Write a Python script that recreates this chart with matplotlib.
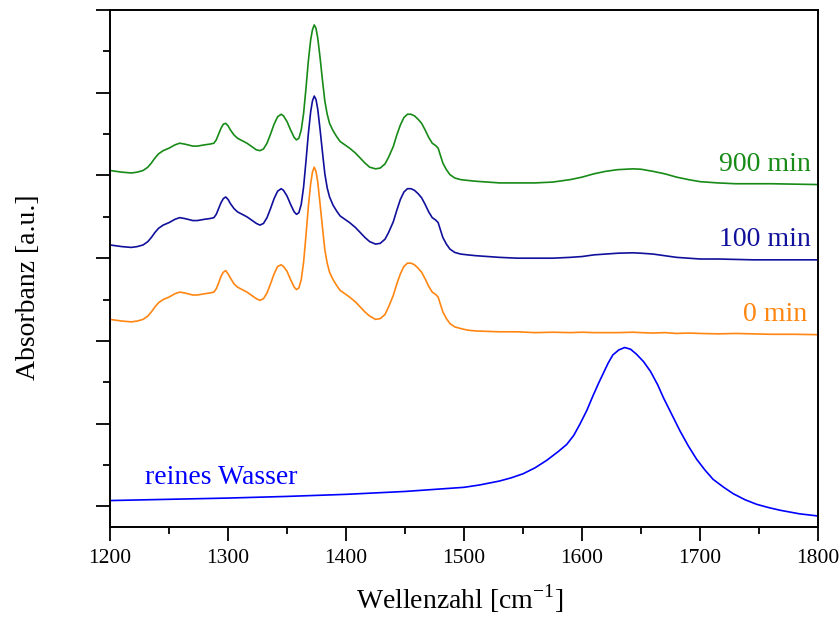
import matplotlib
matplotlib.use('Agg')
import matplotlib.pyplot as plt
from matplotlib import rcParams
from matplotlib.ticker import MultipleLocator

rcParams['font.family'] = 'Liberation Serif'
rcParams['mathtext.fontset'] = 'custom'
rcParams['mathtext.rm'] = 'Liberation Serif'

# wavenumbers [cm-1]
wn = [1200, 1205, 1210, 1218, 1223, 1228, 1232, 1235, 1238, 1241, 1245, 1250,
      1255, 1259, 1263, 1266, 1270, 1274, 1280, 1285, 1288, 1290, 1292, 1294,
      1296, 1298, 1300, 1302, 1305, 1308, 1312, 1316, 1320, 1324, 1327, 1330,
      1333, 1336, 1339, 1342, 1345, 1347, 1350, 1353, 1356, 1358, 1360, 1362,
      1364, 1366, 1368, 1370, 1371.5, 1373, 1374.5, 1376, 1378, 1380, 1382, 1384,
      1386, 1389, 1392, 1395, 1399, 1403, 1408, 1412, 1416, 1420, 1425, 1429,
      1433, 1436, 1440, 1443, 1446, 1449, 1452, 1455, 1458, 1461, 1464, 1467,
      1470, 1473, 1476, 1478, 1480, 1482, 1485, 1488, 1492, 1497, 1503, 1510,
      1520, 1530, 1545, 1560, 1575, 1590, 1600, 1610, 1620, 1630, 1643, 1650,
      1660, 1670, 1680, 1690, 1700, 1715, 1730, 1745, 1760, 1780, 1800]

abs_900 = [4.06, 4.05, 4.04, 4.03, 4.04, 4.06, 4.10, 4.15, 4.21, 4.26, 4.30, 4.33,
           4.37, 4.39, 4.38, 4.37, 4.355, 4.355, 4.37, 4.38, 4.39, 4.43, 4.50, 4.57,
           4.62, 4.63, 4.60, 4.55, 4.49, 4.45, 4.42, 4.39, 4.35, 4.31, 4.30, 4.32,
           4.39, 4.50, 4.62, 4.71, 4.74, 4.72, 4.65, 4.55, 4.46, 4.43, 4.45, 4.55,
           4.75, 5.05, 5.38, 5.64, 5.76, 5.82, 5.78, 5.66, 5.42, 5.15, 4.90, 4.74,
           4.63, 4.54, 4.47, 4.41, 4.37, 4.33, 4.27, 4.21, 4.15, 4.10, 4.08, 4.09,
           4.14, 4.22, 4.35, 4.49, 4.61, 4.70, 4.74, 4.74, 4.72, 4.68, 4.63, 4.55,
           4.46, 4.39, 4.36, 4.33, 4.24, 4.15, 4.07, 4.01, 3.97, 3.95, 3.94, 3.93,
           3.92, 3.91, 3.91, 3.91, 3.92, 3.95, 3.98, 4.02, 4.05, 4.07, 4.08, 4.075,
           4.05, 4.02, 3.98, 3.95, 3.925, 3.91, 3.90, 3.90, 3.90, 3.895, 3.89]

abs_100 = [3.16, 3.15, 3.14, 3.13, 3.14, 3.16, 3.20, 3.25, 3.31, 3.36, 3.40, 3.43,
           3.47, 3.49, 3.48, 3.47, 3.455, 3.455, 3.47, 3.48, 3.49, 3.53, 3.60, 3.67,
           3.72, 3.74, 3.71, 3.66, 3.60, 3.56, 3.53, 3.50, 3.46, 3.42, 3.40, 3.42,
           3.49, 3.60, 3.72, 3.81, 3.84, 3.82, 3.75, 3.65, 3.56, 3.53, 3.55, 3.65,
           3.86, 4.17, 4.50, 4.77, 4.90, 4.96, 4.92, 4.80, 4.55, 4.28, 4.02, 3.85,
           3.74, 3.64, 3.57, 3.51, 3.47, 3.43, 3.37, 3.31, 3.25, 3.20, 3.17, 3.18,
           3.23, 3.31, 3.44, 3.58, 3.71, 3.80, 3.84, 3.84, 3.82, 3.78, 3.73, 3.65,
           3.56, 3.49, 3.46, 3.43, 3.34, 3.25, 3.17, 3.11, 3.07, 3.05, 3.04, 3.03,
           3.02, 3.01, 3.00, 3.00, 3.00, 3.01, 3.02, 3.04, 3.05, 3.06, 3.065, 3.06,
           3.05, 3.03, 3.01, 3.00, 2.99, 2.99, 2.985, 2.98, 2.98, 2.98, 2.98]

abs_0 = [2.26, 2.25, 2.24, 2.23, 2.24, 2.26, 2.30, 2.35, 2.41, 2.46, 2.50, 2.53,
         2.57, 2.59, 2.58, 2.57, 2.555, 2.555, 2.57, 2.58, 2.59, 2.63, 2.70, 2.78,
         2.83, 2.85, 2.81, 2.76, 2.69, 2.65, 2.62, 2.59, 2.55, 2.51, 2.49, 2.51,
         2.58, 2.69, 2.81, 2.90, 2.92, 2.90, 2.84, 2.74, 2.65, 2.62, 2.64, 2.74,
         2.95, 3.27, 3.62, 3.90, 4.04, 4.10, 4.05, 3.92, 3.65, 3.37, 3.10, 2.94,
         2.83, 2.74, 2.67, 2.61, 2.57, 2.53, 2.47, 2.41, 2.35, 2.30, 2.26, 2.27,
         2.32, 2.41, 2.55, 2.69, 2.81, 2.90, 2.94, 2.94, 2.92, 2.88, 2.83, 2.75,
         2.66, 2.59, 2.56, 2.53, 2.44, 2.35, 2.27, 2.21, 2.17, 2.15, 2.13, 2.12,
         2.115, 2.11, 2.11, 2.10, 2.105, 2.10, 2.105, 2.10, 2.10, 2.10, 2.105, 2.10,
         2.095, 2.10, 2.09, 2.095, 2.09, 2.085, 2.09, 2.085, 2.08, 2.08, 2.075]

wn_water = [1200, 1250, 1300, 1350, 1400, 1450, 1480, 1500, 1513, 1530, 1540,
            1550, 1560, 1570, 1580, 1587, 1593, 1598, 1604, 1609, 1614, 1618,
            1622, 1626, 1631, 1636, 1641, 1646, 1652, 1658, 1664, 1669, 1676,
            1683, 1690, 1697, 1704, 1711, 1720, 1728, 1738, 1748, 1758, 1768,
            1784, 1800]
abs_water = [0.07, 0.085, 0.10, 0.12, 0.145, 0.18, 0.21, 0.23, 0.258, 0.306, 0.345,
             0.394, 0.465, 0.556, 0.665, 0.749, 0.86, 0.99, 1.16, 1.33, 1.49, 1.61,
             1.73, 1.83, 1.89, 1.92, 1.90, 1.84, 1.75, 1.63, 1.47, 1.31, 1.11,
             0.91, 0.73, 0.57, 0.44, 0.326, 0.23, 0.153, 0.08, 0.024, -0.015, -0.048,
             -0.09, -0.117]

fig = plt.figure(figsize=(8.4, 6.19), dpi=100)
ax = fig.add_axes([0.131, 0.1486, 0.843, 0.8352])

ax.plot(wn, abs_900, color='#178a17', lw=1.2)
ax.plot(wn, abs_100, color='#10109c', lw=1.2)
ax.plot(wn, abs_0, color='#ff8612', lw=1.2)
ax.plot(wn_water, abs_water, color='#0000ff', lw=1.2)

ax.text(1794, 4.13, '900 min', color='#178a17', fontsize=20, ha='right', va='center')
ax.text(1794, 3.22, '100 min', color='#10109c', fontsize=20, ha='right', va='center')
ax.text(1791, 2.32, '0 min', color='#ff8612', fontsize=20, ha='right', va='center')
ax.text(1230, 0.35, 'reines Wasser', color='#0000ff', fontsize=20, ha='left', va='center')

ax.set_xlim(1200, 1800)
ax.set_ylim(-0.25, 6)
ax.xaxis.set_major_locator(MultipleLocator(100))
ax.xaxis.set_minor_locator(MultipleLocator(50))
ax.yaxis.set_major_locator(MultipleLocator(1))
ax.yaxis.set_minor_locator(MultipleLocator(0.5))
ax.set_yticklabels([])
ax.tick_params(which='major', direction='out', length=10, width=1.3, labelsize=15.5, pad=6)
ax.tick_params(which='minor', direction='out', length=5, width=1.3)
ax.tick_params(top=False, right=False, which='both')
for s in ax.spines.values():
    s.set_linewidth(1.4)

ax.set_xlabel('Wellenzahl [cm$^{\\mathrm{-1}}$]', fontsize=20)
ax.set_ylabel('Absorbanz [a.u.]', fontsize=20)
ax.xaxis.set_label_coords(0.494, -0.108)
ax.yaxis.set_label_coords(-0.097, 0.464)

fig.savefig('out.png', dpi=100)
